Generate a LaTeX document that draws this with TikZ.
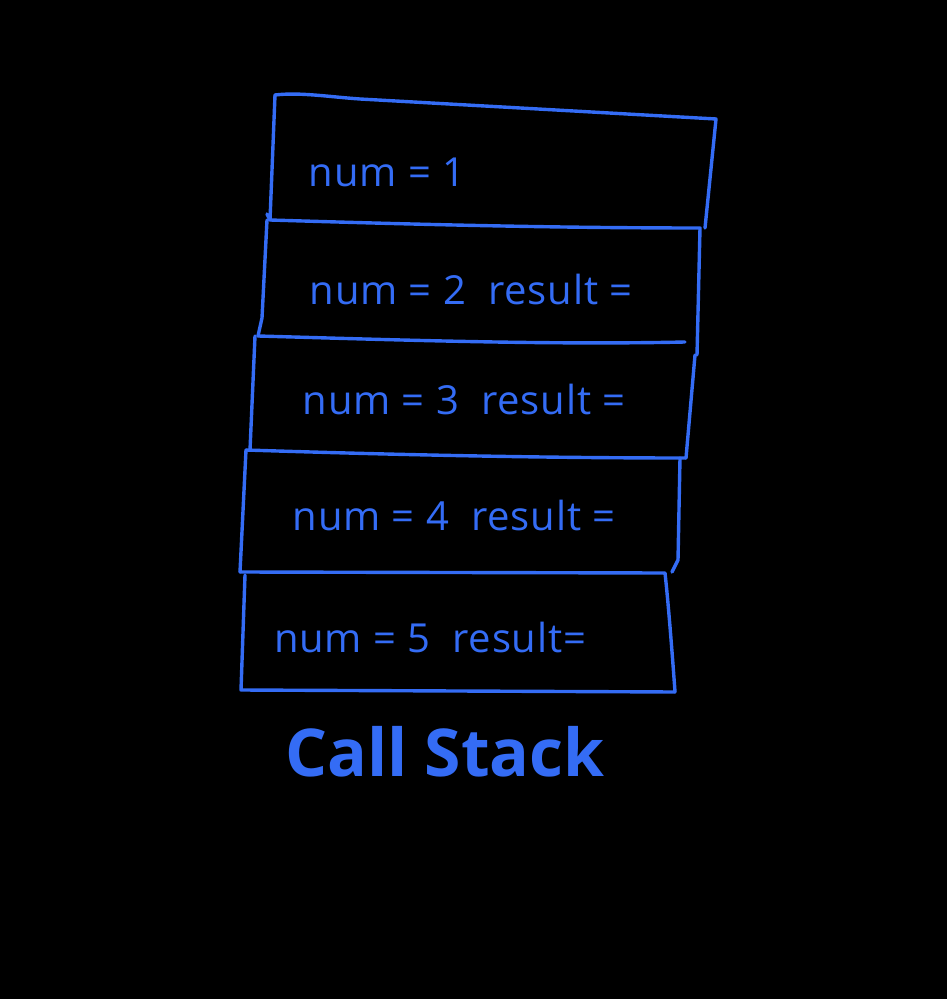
\documentclass[tikz,border=0pt]{standalone}
\usepackage{fontspec}
\setmainfont{Open Sans}
\definecolor{pen}{RGB}{52,108,245}
\begin{document}
\begin{tikzpicture}[x=0.5pt,y=-0.5pt,
  stroke/.style={draw=pen,line width=1.7pt,line cap=round,line join=round},
  lbl/.style={text=pen,font=\fontsize{20}{22}\selectfont\addfontfeature{LetterSpace=2}},
  title/.style={text=pen,font=\fontsize{33}{36}\selectfont\bfseries}]
\fill[black] (0,0) rectangle (947,999);
\useasboundingbox (0,0) rectangle (947,999);
% box 1
\draw[stroke] (275,95) .. controls (300,92) and (330,97) .. (360,99) -- (716,119) -- (705,228);
\draw[stroke] (275,95) -- (270,220);
% box 2
\draw[stroke] (267,214) -- (270,220) .. controls (400,224) and (550,228) .. (700,228) -- (697,355);
\draw[stroke] (267,220) -- (262,318) -- (258,336);
% box 3
\draw[stroke] (258,336) .. controls (400,340) and (550,345) .. (685,342);
\draw[stroke] (695,355) -- (686,458);
\draw[stroke] (255,336) -- (250,450);
% box 4
\draw[stroke] (246,450) .. controls (400,455) and (550,458) .. (686,458);
\draw[stroke] (680,458) -- (678,560) -- (672,572);
\draw[stroke] (246,450) -- (240,572);
% box 5
\draw[stroke] (240,572) -- (665,573) .. controls (668,600) and (672,650) .. (675,692);
\draw[stroke] (245,575) -- (241,690) -- (675,692);
% texts
\node[lbl] (t1) at (387,172) {num = 1};
\node[lbl] (t2) at (471,290) {num = 2\ \ result =};
\node[lbl] (t3) at (464,400) {num = 3\ \ result =};
\node[lbl] (t4) at (454,515) {num = 4\ \ result =};
\node[lbl] (t5) at (430,637) {num = 5\ \ result=};
\node[title] (ct) at (445,752) {Call Stack};
\end{tikzpicture}
\end{document}
